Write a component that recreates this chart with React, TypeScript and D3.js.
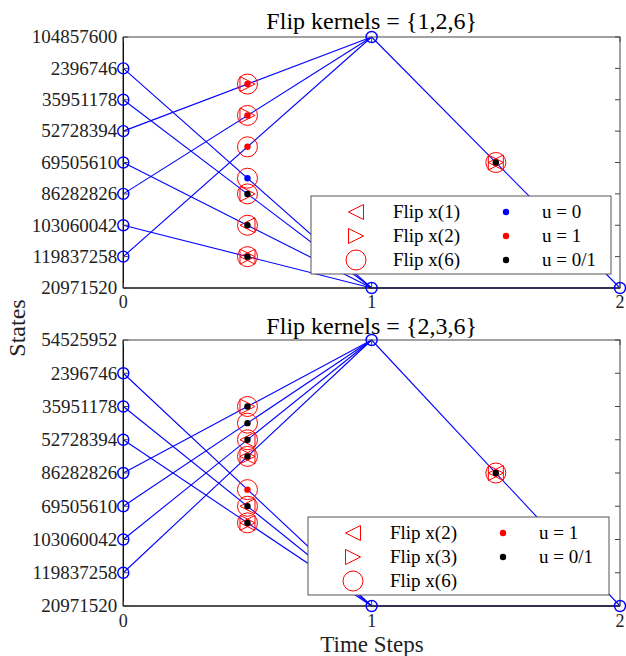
import React from 'react';
import * as d3 from 'd3';

// ---------- data ----------
const timeTicks = [0, 1, 2];

// top panel
const topKernels = [1, 2, 6];
const topStates = ['104857600', '2396746', '35951178', '52728394', '69505610', '86282826', '103060042', '119837258', '20971520'];
const topFrom = ['2396746', '35951178', '52728394', '69505610', '86282826', '103060042', '119837258'];
const topTo = ['20971520', '20971520', '104857600', '20971520', '104857600', '20971520', '104857600'];
const topFlips = [[6], [2, 6], [2, 6], [1, 6], [2, 6], [1, 2, 6], [6]];
const topU = ['0', '0/1', '1', '0/1', '1', '0/1', '1'];
const topStage2From = '104857600';
const topStage2To = '20971520';
const topStage2Flips = [1, 2, 6];
const topStage2U = '0/1';
const topIdle = '20971520';
const topLegendU = ['0', '1', '0/1'];

// bottom panel
const botKernels = [2, 3, 6];
const botStates = ['54525952', '2396746', '35951178', '52728394', '86282826', '69505610', '103060042', '119837258', '20971520'];
const botFrom = ['2396746', '35951178', '52728394', '86282826', '69505610', '103060042', '119837258'];
const botTo = ['20971520', '20971520', '20971520', '54525952', '54525952', '54525952', '54525952'];
const botFlips = [[6], [2, 6], [2, 3, 6], [3, 6], [6], [2, 6], [2, 3, 6]];
const botU = ['1', '0/1', '0/1', '0/1', '0/1', '0/1', '0/1'];
const botStage2From = '54525952';
const botStage2To = '20971520';
const botStage2Flips = [2, 3, 6];
const botStage2U = '0/1';
const botIdle = '20971520';
const botLegendU = ['1', '0/1'];

// ---------- styling ----------
const FONT = '"Liberation Serif", "Times New Roman", serif';
const BLUE = '#0000ff';
const RED = '#ff0000';
const uColor: Record<string, string> = { '0': '#0000ff', '1': '#ff0000', '0/1': '#000000' };
const PLOT_L = 123.3;
const PLOT_R = 620;
const TRI = 7.5;

const triPath = (dir: 'left' | 'right') =>
  dir === 'left'
    ? `M${-TRI},0L${TRI},${-TRI}L${TRI},${TRI}Z`
    : `M${TRI},0L${-TRI},${-TRI}L${-TRI},${TRI}Z`;

function FlipMarker({ x, y, flips, kernels }: { x: number; y: number; flips: number[]; kernels: number[] }) {
  return (
    <g transform={`translate(${x},${y})`} fill="none" stroke={RED} strokeWidth={1}>
      {flips.includes(kernels[0]) && <path d={triPath('left')} />}
      {flips.includes(kernels[1]) && <path d={triPath('right')} />}
      {flips.includes(kernels[2]) && <circle r={10} />}
    </g>
  );
}

type PanelProps = {
  top: number;
  bottom: number;
  title: string;
  titleY: number;
  states: string[];
  from: string[];
  to: string[];
  flips: number[][];
  u: string[];
  s2From: string;
  s2To: string;
  s2Flips: number[];
  s2U: string;
  idle: string;
  kernels: number[];
  legendU: string[];
  legend: { x: number; y: number; w: number; h: number };
  xTickY: number;
};

function Panel(p: PanelProps) {
  const x = d3.scaleLinear().domain([0, 2]).range([PLOT_L, PLOT_R]);
  const y = d3.scalePoint<string>().domain(p.states).range([p.top, p.bottom]);
  const line = d3.line<[number, number]>().x((d) => x(d[0])).y((d) => d[1]);

  const transitions = p.from.map((f, i) => ({
    y0: y(f)!,
    y1: y(p.to[i])!,
    flips: p.flips[i],
    u: p.u[i],
  }));

  const s2y0 = y(p.s2From)!;
  const s2y1 = y(p.s2To)!;
  const idleY = y(p.idle)!;

  const rowH = 24;
  const lg = p.legend;
  const legendMarkers = [
    { kind: 'left', label: `Flip x(${p.kernels[0]})` },
    { kind: 'right', label: `Flip x(${p.kernels[1]})` },
    { kind: 'circle', label: `Flip x(${p.kernels[2]})` },
  ];

  return (
    <g>
      {/* lines */}
      <g fill="none" stroke={BLUE} strokeWidth={1.1}>
        {transitions.map((t, i) => (
          <path key={i} d={line([[0, t.y0], [1, t.y1]])!} />
        ))}
        <path d={line([[1, s2y0], [2, s2y1]])!} />
        <path d={line([[1, idleY], [2, idleY]])!} />
      </g>
      {/* axes box */}
      <rect x={PLOT_L} y={p.top} width={PLOT_R - PLOT_L} height={p.bottom - p.top} fill="none" stroke="#444" strokeWidth={1} />
      <line x1={PLOT_L} x2={PLOT_L} y1={p.top} y2={p.bottom} stroke="#000" strokeWidth={1.2} />
      <line x1={PLOT_L} x2={PLOT_R} y1={p.bottom} y2={p.bottom} stroke="#000" strokeWidth={1.2} />
      {p.states.map((s, i) => (
        <g key={i}>
          <line x1={PLOT_L} x2={PLOT_L + 5} y1={y(s)} y2={y(s)} stroke="#444" />
          <line x1={PLOT_R} x2={PLOT_R - 5} y1={y(s)} y2={y(s)} stroke="#444" />
          <text x={PLOT_L - 6} y={y(s)} dy="0.33em" textAnchor="end" fontSize={19} fontFamily={FONT} fill="#222">
            {s}
          </text>
        </g>
      ))}
      {timeTicks.map((t) => (
        <g key={t}>
          <line x1={x(t)} x2={x(t)} y1={p.bottom} y2={p.bottom - 5} stroke="#444" />
          <line x1={x(t)} x2={x(t)} y1={p.top} y2={p.top + 5} stroke="#444" />
          <text x={x(t)} y={p.xTickY} textAnchor="middle" fontSize={18} fontFamily={FONT} fill="#222">
            {t}
          </text>
        </g>
      ))}
      {/* node circles */}
      <g fill="none" stroke={BLUE} strokeWidth={1.4}>
        {p.from.map((f, i) => (
          <circle key={i} cx={x(0)} cy={y(f)} r={5.5} />
        ))}
        <circle cx={x(1)} cy={s2y0} r={5.5} />
        <circle cx={x(1)} cy={idleY} r={5.5} />
        <circle cx={x(2)} cy={s2y1} r={5.5} />
      </g>
      {/* flip markers */}
      {transitions.map((t, i) => (
        <FlipMarker key={i} x={x(0.5)} y={(t.y0 + t.y1) / 2} flips={t.flips} kernels={p.kernels} />
      ))}
      <FlipMarker x={x(1.5)} y={(s2y0 + s2y1) / 2} flips={p.s2Flips} kernels={p.kernels} />
      {/* u dots */}
      {transitions.map((t, i) => (
        <circle key={i} cx={x(0.5)} cy={(t.y0 + t.y1) / 2} r={3.2} fill={uColor[t.u]} />
      ))}
      <circle cx={x(1.5)} cy={(s2y0 + s2y1) / 2} r={3.2} fill={uColor[p.s2U]} />
      {/* legend */}
      <g>
        <rect x={lg.x} y={lg.y} width={lg.w} height={lg.h} fill="#fff" stroke="#555" strokeWidth={1} />
        {legendMarkers.map((m, i) => {
          const cy = lg.y + 16 + i * rowH;
          return (
            <g key={i}>
              <g transform={`translate(${lg.x + 45},${cy})`} fill="none" stroke={RED} strokeWidth={1}>
                {m.kind === 'circle' ? <circle r={10} /> : <path d={triPath(m.kind as 'left' | 'right')} />}
              </g>
              <text x={lg.x + 82} y={cy} dy="0.3em" fontSize={19} fontFamily={FONT} fill="#000">
                {m.label}
              </text>
            </g>
          );
        })}
        {p.legendU.map((u, i) => {
          const cy = lg.y + 16 + i * rowH;
          return (
            <g key={u}>
              <circle cx={lg.x + 195} cy={cy} r={3.2} fill={uColor[u]} />
              <text x={lg.x + 231} y={cy} dy="0.3em" fontSize={19} fontFamily={FONT} fill="#000">
                {`u = ${u}`}
              </text>
            </g>
          );
        })}
      </g>
      <text x={(PLOT_L + PLOT_R) / 2} y={p.titleY} textAnchor="middle" fontSize={24} fontFamily={FONT} fill="#000">
        {p.title}
      </text>
    </g>
  );
}

export default function App() {
  return (
    <svg width={626} height={656} style={{ position: 'absolute', left: 0, top: 0, background: '#fff' }}>
      <rect x={0} y={0} width={626} height={656} fill="#fff" />
      <Panel
        top={37}
        bottom={288}
        title="Flip kernels = {1,2,6}"
        titleY={29}
        states={topStates}
        from={topFrom}
        to={topTo}
        flips={topFlips}
        u={topU}
        s2From={topStage2From}
        s2To={topStage2To}
        s2Flips={topStage2Flips}
        s2U={topStage2U}
        idle={topIdle}
        kernels={topKernels}
        legendU={topLegendU}
        legend={{ x: 311, y: 196, w: 300, h: 78 }}
        xTickY={308}
      />
      <Panel
        top={340}
        bottom={606}
        title="Flip kernels = {2,3,6}"
        titleY={334}
        states={botStates}
        from={botFrom}
        to={botTo}
        flips={botFlips}
        u={botU}
        s2From={botStage2From}
        s2To={botStage2To}
        s2Flips={botStage2Flips}
        s2U={botStage2U}
        idle={botIdle}
        kernels={botKernels}
        legendU={botLegendU}
        legend={{ x: 308, y: 517, w: 301, h: 78 }}
        xTickY={627}
      />
      <text x={372} y={652} textAnchor="middle" fontSize={23} fontFamily={FONT} fill="#222">
        Time Steps
      </text>
      <text transform="translate(25,328) rotate(-90)" textAnchor="middle" fontSize={24} fontFamily={FONT} fill="#222">
        States
      </text>
    </svg>
  );
}
